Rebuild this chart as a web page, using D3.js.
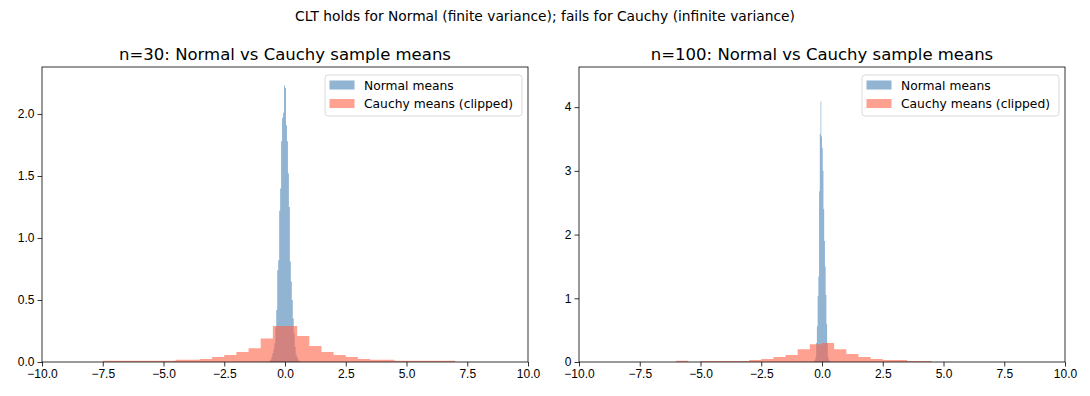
<!DOCTYPE html>
<html lang="en">
<head>
  <meta charset="UTF-8" />
  <title>CLT Normal vs Cauchy</title>
  <style>
    html, body { margin: 0; padding: 0; background: #fff; }
    svg { display: block; font-family: "DejaVu Sans", sans-serif; }
    .tick text { font-size: 12px; fill: #000; }
    .tick line { stroke: #000; stroke-width: 0.8; }
    .domain { display: none; }
  </style>
</head>
<body>
  <script src="https://d3js.org/d3.v7.min.js"></script>
  <script>
    // histogram densities; each list starts at its *Start and steps by *Width
    const n30NormalStart = -0.64, n30NormalWidth = 0.04;
    const n30Normal = [0.01, 0.02, 0.04, 0.07, 0.10, 0.15, 0.28, 0.42, 0.74, 0.82, 1.22, 1.40, 1.78, 1.97, 2.01, 2.23,
      2.21, 1.91, 1.78, 1.52, 1.25, 0.81, 0.65, 0.50, 0.35, 0.23, 0.12, 0.06, 0.04, 0.02, 0.01, 0.005];

    const n30CauchyStart = -7.5, n30CauchyWidth = 0.5;
    const n30Cauchy = [0.01, 0.01, 0.01, 0.01, 0.01, 0.01, 0.018, 0.018, 0.025, 0.04, 0.056, 0.08, 0.11, 0.19, 0.29,
      0.29, 0.21, 0.13, 0.08, 0.056, 0.04, 0.025, 0.018, 0.018, 0.01, 0.01, 0.01, 0.01, 0.01];

    const n100NormalStart = -0.33, n100NormalWidth = 0.03;
    const n100Normal = [0.01, 0.03, 0.08, 0.3, 0.56, 1.03, 1.34, 2.68, 3.58, 4.09, 3.54,
      3.36, 3.0, 2.4, 1.9, 1.5, 1.05, 0.6, 0.3, 0.08, 0.03, 0.01];

    const n100CauchyStart = -6.0, n100CauchyWidth = 0.5;
    const n100Cauchy = [0.02, 0, 0.016, 0.016, 0.016, 0.016, 0.03, 0.047, 0.079, 0.11, 0.20,
      0.28, 0.30, 0.20, 0.126, 0.079, 0.047, 0.03, 0.03, 0.016, 0.016];

    const xTicks = [-10, -7.5, -5, -2.5, 0, 2.5, 5, 7.5, 10];
    const yTicks30 = [0, 0.5, 1.0, 1.5, 2.0];
    const yTicks100 = [0, 1, 2, 3, 4];
    const legendLabels = ["Normal means", "Cauchy means (clipped)"];

    const panels = [
      { title: "n=30: Normal vs Cauchy sample means", left: 42, yMax: 2.379, yTicks: yTicks30, yFmt: d3.format(".1f"),
        normal: { start: n30NormalStart, width: n30NormalWidth, values: n30Normal },
        cauchy: { start: n30CauchyStart, width: n30CauchyWidth, values: n30Cauchy } },
      { title: "n=100: Normal vs Cauchy sample means", left: 579, yMax: 4.63, yTicks: yTicks100, yFmt: d3.format("d"),
        normal: { start: n100NormalStart, width: n100NormalWidth, values: n100Normal },
        cauchy: { start: n100CauchyStart, width: n100CauchyWidth, values: n100Cauchy } }
    ];

    const W = 1090, H = 396;
    const plotTop = 67, plotBottom = 362, pw = 486;

    const svg = d3.select("body").append("svg").attr("width", W).attr("height", H);

    svg.append("text")
      .attr("x", W / 2).attr("y", 21)
      .attr("text-anchor", "middle")
      .style("font-size", "13.8px")
      .text("CLT holds for Normal (finite variance); fails for Cauchy (infinite variance)");

    function histPath(h, x, y) {
      let d = `M${x(h.start)},${y(0)}`;
      h.values.forEach((v, i) => {
        const x0 = x(h.start + i * h.width), x1 = x(h.start + (i + 1) * h.width);
        d += `L${x0},${y(v)}L${x1},${y(v)}`;
      });
      d += `L${x(h.start + h.values.length * h.width)},${y(0)}Z`;
      return d;
    }

    panels.forEach(p => {
      const x = d3.scaleLinear().domain([-10, 10]).range([p.left, p.left + pw]);
      const y = d3.scaleLinear().domain([0, p.yMax]).range([plotBottom, plotTop]);
      const g = svg.append("g");

      g.append("path").attr("d", histPath(p.normal, x, y))
        .attr("fill", "steelblue").attr("fill-opacity", 0.6);
      g.append("path").attr("d", histPath(p.cauchy, x, y))
        .attr("fill", "tomato").attr("fill-opacity", 0.6);

      g.append("g").attr("transform", `translate(0,${plotBottom})`)
        .call(d3.axisBottom(x).tickValues(xTicks).tickFormat(d3.format(".1f")).tickSizeOuter(0).tickSize(4.5).tickPadding(3));
      g.append("g").attr("transform", `translate(${p.left},0)`)
        .call(d3.axisLeft(y).tickValues(p.yTicks).tickFormat(p.yFmt).tickSizeOuter(0).tickSize(4.5).tickPadding(3));

      g.append("rect")
        .attr("x", p.left).attr("y", plotTop).attr("width", pw).attr("height", plotBottom - plotTop)
        .attr("fill", "none").attr("stroke", "#000").attr("stroke-width", 0.8);

      g.append("text")
        .attr("x", p.left + pw / 2).attr("y", plotTop - 7)
        .attr("text-anchor", "middle")
        .style("font-size", "16.5px")
        .text(p.title);

      // legend, upper right
      const lw = 197, lx = p.left + pw - lw - 6, ly = plotTop + 8;
      const leg = g.append("g").attr("transform", `translate(${lx},${ly})`);
      leg.append("rect").attr("width", lw).attr("height", 41).attr("rx", 3)
        .attr("fill", "#fff").attr("fill-opacity", 0.8).attr("stroke", "#d0d0d0").attr("stroke-width", 0.8);
      legendLabels.forEach((label, i) => {
        const c = i === 0 ? "steelblue" : "tomato";
        leg.append("rect").attr("x", 4.5).attr("y", 5.5 + i * 18.5).attr("width", 25).attr("height", 9)
          .attr("fill", c).attr("fill-opacity", 0.6);
        leg.append("text").attr("x", 39).attr("y", 14.5 + i * 18.5)
          .style("font-size", "12.3px").text(label);
      });
    });
  </script>
</body>
</html>
